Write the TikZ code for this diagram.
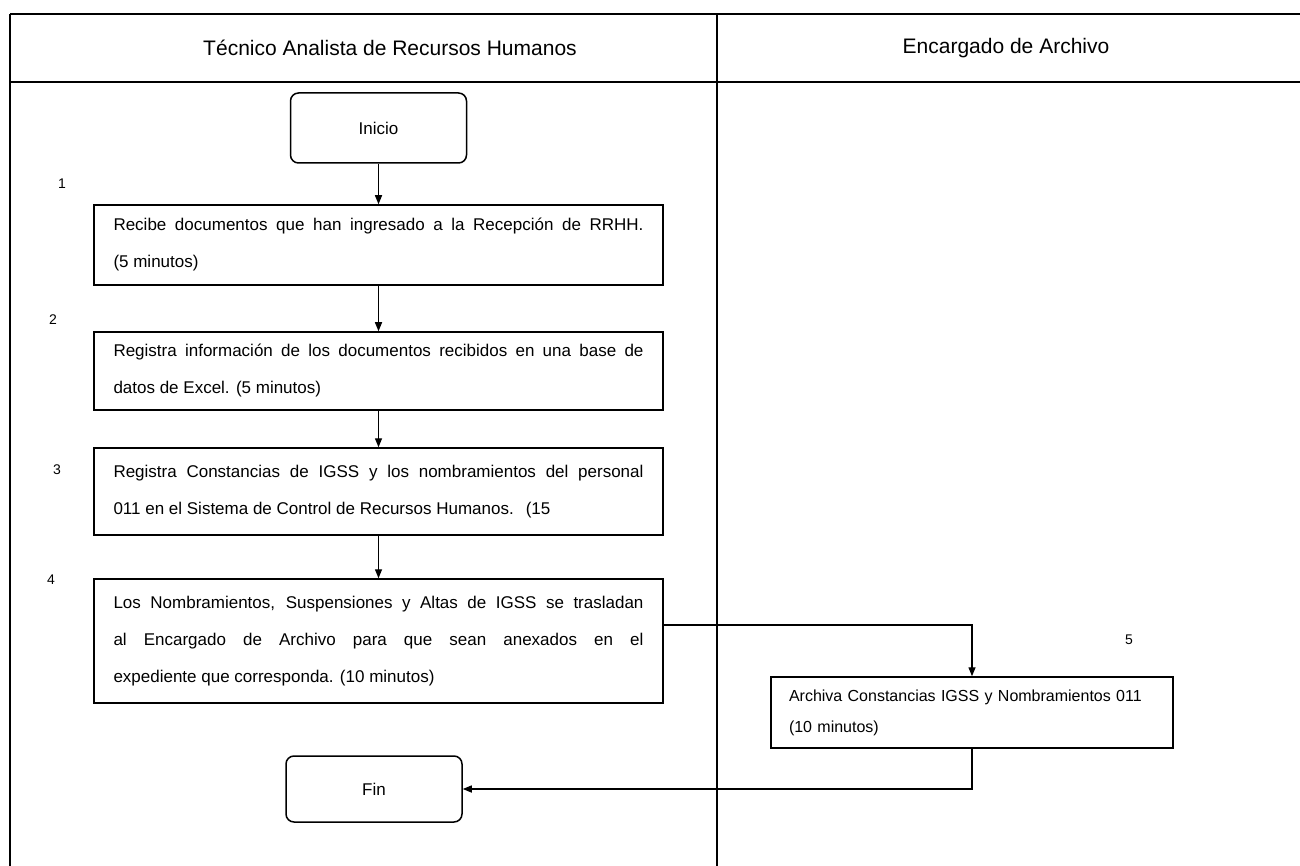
\documentclass[tikz,border=0pt]{standalone}
\usepackage{fontspec}
\setmainfont{Liberation Sans}
\usetikzlibrary{arrows.meta}
\begin{document}
\begin{tikzpicture}[x=1pt,y=-1pt,
  frameline/.style={line width=1.4pt},
  lanehead/.style={font=\fontsize{21}{25}\selectfont},
  stepbox/.style={draw,line width=1.5pt,text width=530pt,inner xsep=19.5pt,
    align=justify,font=\fontsize{17}{37}\selectfont},
  smallbox/.style={draw,line width=1.5pt,minimum width=402pt,minimum height=71pt,
    font=\fontsize{16}{31}\selectfont},
  termbox/.style={draw,line width=1.5pt,rounded corners=8pt,minimum width=176pt,
    font=\fontsize{17}{20}\selectfont},
  stepnum/.style={font=\fontsize{14}{16}\selectfont},
  arr/.style={line width=1.4pt,-{Triangle[length=9pt,width=7pt]}}]
\useasboundingbox (0,0) rectangle (1300,866);

% swimlane frame
\coordinate (tl) at (10,14);
\coordinate (tr) at (1300,14);
\coordinate (hl) at (10,82);
\coordinate (hr) at (1300,82);
\coordinate (bl) at (10,866);
\coordinate (dt) at (717,14);
\coordinate (db) at (717,866);
\draw[frameline] (tl) -- (tr);
\draw[frameline] (hl) -- (hr);
\draw[frameline] (tl) -- (bl);
\draw[frameline] (dt) -- (db);

% lane titles
\node[lanehead] (laneA) at (390,48) {Técnico Analista de Recursos Humanos};
\node[lanehead] (laneB) at (1006,48) {Encargado de Archivo};

% terminals
\node[termbox,minimum height=70pt] (inicio) at (378.5,128) {Inicio};
\node[termbox,minimum height=66pt] (fin) at (374,789) {Fin};

% process steps
\node[stepbox,minimum height=80pt] (b1) at (378.5,245)
  {Recibe documentos que han ingresado a la Recepción de RRHH.\linebreak
   (5 minutos)};
\node[stepbox,minimum height=78pt] (b2) at (378.5,371)
  {Registra información de los documentos recibidos en una base de\linebreak
   datos de Excel. (5 minutos)};
\node[stepbox,minimum height=87pt] (b3) at (378.5,491.5)
  {Registra Constancias de IGSS y los nombramientos del personal\linebreak
   011 en el Sistema de Control de Recursos Humanos.\hspace{12pt}(15};
\node[stepbox,minimum height=124pt] (b4) at (378.5,641)
  {Los Nombramientos, Suspensiones y Altas de IGSS se trasladan\linebreak
   al Encargado de Archivo para que sean anexados en el\linebreak
   expediente que corresponda. (10 minutos)};
\node[smallbox,align=left,text width=366pt,inner xsep=18pt] (b5) at (972,712.5)
  {Archiva Constancias IGSS y Nombramientos 011\\(10 minutos)};

% step numbers
\node[stepnum] (n1) at (62,184) {1};
\node[stepnum] (n2) at (53,320) {2};
\node[stepnum] (n3) at (57,470) {3};
\node[stepnum] (n4) at (51,580) {4};
\node[stepnum] (n5) at (1129,640) {5};

% flow
\draw[arr] (inicio) -- (b1);
\draw[arr] (b1) -- (b2);
\draw[arr] (b2) -- (b3);
\draw[arr] (b3) -- (b4);
\draw[arr] ([yshift=16pt]b4.east) -| (b5.north);
\draw[arr] (b5.south) |- (fin.east);
\end{tikzpicture}
\end{document}
